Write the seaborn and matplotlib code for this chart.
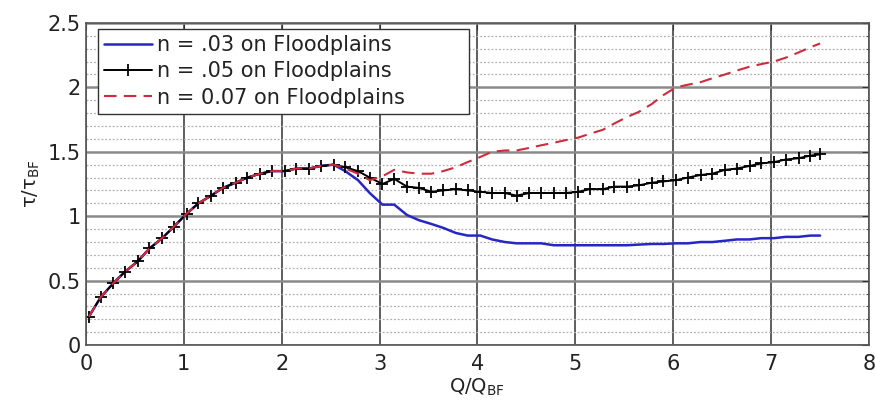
import numpy as np
import pandas as pd
import seaborn as sns
import matplotlib.pyplot as plt
from matplotlib.ticker import MultipleLocator

sns.set_style("white")
plt.rcParams['font.family'] = ['DejaVu Sans']

# Q/Q_BF sample positions
q_ratio = [0.03, 0.15, 0.28, 0.40, 0.53, 0.65, 0.78, 0.90, 1.03, 1.15, 1.28, 1.40,
           1.53, 1.65, 1.78, 1.90, 2.03, 2.15, 2.28, 2.40, 2.53,
           2.65, 2.78, 2.90, 3.03, 3.15, 3.28, 3.40, 3.53, 3.65, 3.78, 3.90,
           4.03, 4.15, 4.28, 4.40, 4.53, 4.65, 4.78, 4.90, 5.03, 5.15, 5.28,
           5.40, 5.53, 5.65, 5.78, 5.90, 6.03, 6.15, 6.28, 6.40, 6.53, 6.65,
           6.78, 6.90, 7.03, 7.15, 7.28, 7.40, 7.50]

# in-channel part (same for all three cases)
tau_common = [0.22, 0.37, 0.48, 0.57, 0.65, 0.75, 0.83, 0.92, 1.02, 1.10, 1.16, 1.22,
              1.26, 1.30, 1.33, 1.35, 1.35, 1.37, 1.37, 1.39, 1.40]

tau_n03 = [1.35, 1.28, 1.18, 1.09, 1.09, 1.01, 0.97, 0.94, 0.91, 0.87, 0.85,
           0.85, 0.82, 0.80, 0.79, 0.79, 0.79, 0.775, 0.775, 0.775, 0.775, 0.775,
           0.775, 0.775, 0.78, 0.785, 0.785, 0.79, 0.79, 0.80, 0.80, 0.81, 0.82,
           0.82, 0.83, 0.83, 0.84, 0.84, 0.85, 0.85]

tau_n05 = [1.38, 1.35, 1.30, 1.25, 1.29, 1.23, 1.22, 1.19, 1.20, 1.21, 1.20,
           1.19, 1.18, 1.18, 1.16, 1.18, 1.18, 1.18, 1.18, 1.19, 1.21, 1.21,
           1.23, 1.23, 1.24, 1.26, 1.27, 1.28, 1.30, 1.32, 1.33, 1.36, 1.37,
           1.39, 1.41, 1.42, 1.44, 1.45, 1.47, 1.48]

tau_n07 = [1.37, 1.33, 1.28, 1.31, 1.36, 1.34, 1.33, 1.33, 1.35, 1.38, 1.42,
           1.46, 1.50, 1.51, 1.51, 1.53, 1.55, 1.57, 1.59, 1.61, 1.64, 1.67,
           1.72, 1.77, 1.81, 1.87, 1.94, 2.00, 2.02, 2.04, 2.07, 2.10, 2.13,
           2.16, 2.18, 2.20, 2.23, 2.27, 2.31, 2.34]

labels = ["n = .03 on Floodplains", "n = .05 on Floodplains", "n = 0.07 on Floodplains"]

fig = plt.figure(figsize=(8.76, 4.08), dpi=100)
ax = fig.add_axes([0.098, 0.154, 0.894, 0.79])

ax.set_xlim(0, 8)
ax.set_ylim(0, 2.5)
ax.xaxis.set_major_locator(MultipleLocator(1))
ax.yaxis.set_major_locator(MultipleLocator(0.5))
ax.yaxis.set_minor_locator(MultipleLocator(0.1))
ax.grid(axis='x', which='major', color='#333333', lw=1.1)
ax.grid(axis='y', which='major', color='#8a8a8a', lw=1.8)
ax.grid(axis='y', which='minor', color='#b0b0b0', lw=0.9, ls=(0, (1.5, 1.5)))
ax.set_axisbelow(True)

sns.lineplot(x=q_ratio, y=tau_common + tau_n03, ax=ax, sort=False, color='#2626c4',
             lw=1.8, label=labels[0])
sns.lineplot(x=q_ratio, y=tau_common + tau_n05, ax=ax, sort=False, color='black',
             lw=1.4, marker='+', markersize=9, markeredgewidth=1.3,
             markeredgecolor='black', label=labels[1])
sns.lineplot(x=q_ratio, y=tau_common + tau_n07, ax=ax, sort=False, color='#d02a3c',
             lw=1.5, ls=(0, (6, 3.5)), label=labels[2])

ax.set_xticks(np.arange(0, 9, 1))
ax.set_yticks([0, 0.5, 1, 1.5, 2, 2.5])
ax.set_yticklabels(['0', '0.5', '1', '1.5', '2', '2.5'])
ax.tick_params(axis='both', which='both', direction='in', top=True, right=True,
               labelsize=15, color='#333333', labelcolor='#222222')
ax.tick_params(which='minor', length=2)
ax.tick_params(which='major', length=5)
ax.tick_params(axis='x', pad=6)

for s in ax.spines.values():
    s.set_color('#555555')
    s.set_linewidth(1.2)

ax.set_xlabel('Q/Q$_{\\mathregular{BF}}$', fontsize=14, labelpad=2, color='#222222')
ax.set_ylabel('τ/τ$_{\\mathregular{BF}}$', fontsize=14, labelpad=4, color='#222222')

leg = ax.legend(loc='upper left', bbox_to_anchor=(0.015, 0.5, 0.474, 0.481),
                mode='expand', fontsize=15, frameon=True, fancybox=False,
                framealpha=1, edgecolor='#333333', borderaxespad=0,
                handlelength=2.3, labelspacing=0.3, borderpad=0.3,
                handletextpad=0.25)
leg.get_frame().set_linewidth(1.0)
for t in leg.get_texts():
    t.set_color('#222222')

fig.savefig('out.png', dpi=100)
